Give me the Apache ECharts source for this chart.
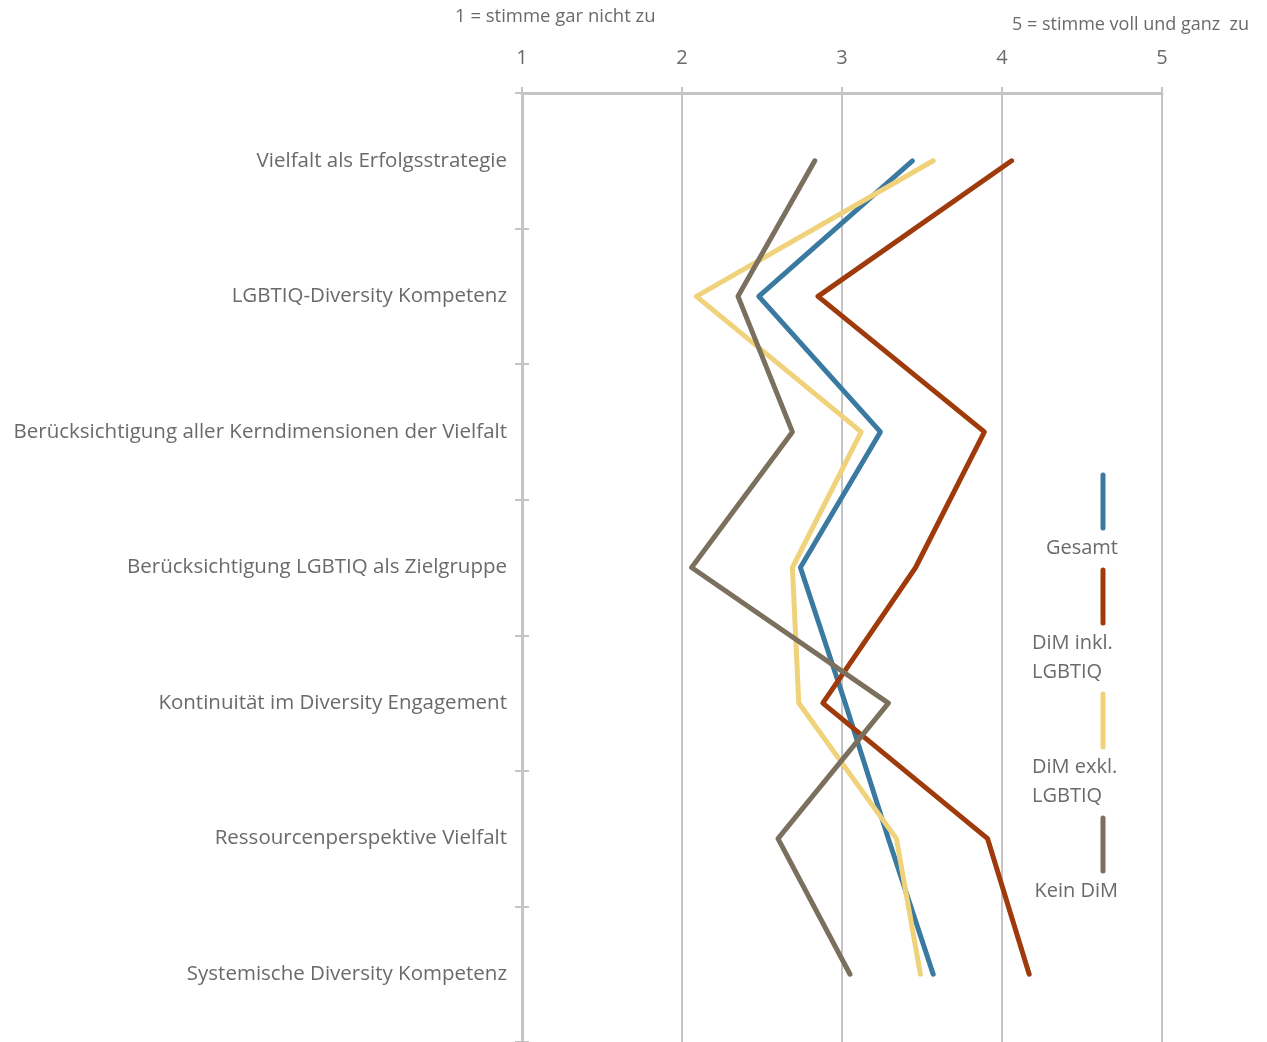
<!DOCTYPE html>
<html>
<head>
<meta charset="utf-8">
<script src="https://cdn.jsdelivr.net/npm/echarts@6/dist/echarts.min.js"></script>
<style>
  html, body { margin: 0; padding: 0; background: #fff; }
  #chart { width: 1267px; height: 1042px; }
</style>
</head>
<body>
<div id="chart"></div>
<script>
// Items of the survey (top to bottom)
const categories = [
  'Vielfalt als Erfolgsstrategie',
  'LGBTIQ-Diversity Kompetenz',
  'Berücksichtigung aller Kerndimensionen der Vielfalt',
  'Berücksichtigung LGBTIQ als Zielgruppe',
  'Kontinuität im Diversity Engagement',
  'Ressourcenperspektive Vielfalt',
  'Systemische Diversity Kompetenz'
];

// Mean agreement per group (1 = stimme gar nicht zu ... 5 = stimme voll und ganz zu)
const gesamt   = [3.44, 2.48, 3.24, 2.74, 3.02, 3.29, 3.57];
const dimInkl  = [4.06, 2.85, 3.89, 3.46, 2.88, 3.91, 4.17];
const dimExkl  = [3.57, 2.09, 3.12, 2.69, 2.73, 3.34, 3.49];
const keinDim  = [2.83, 2.35, 2.69, 2.06, 3.29, 2.60, 3.05];

const seriesNames = ['Gesamt', 'DiM inkl.\nLGBTIQ', 'DiM exkl.\nLGBTIQ', 'Kein DiM'];
const seriesData  = [gesamt, dimInkl, dimExkl, keinDim];
const colors      = ['#3a79a0', '#9f3a0b', '#f0d27b', '#7a705d'];

const scaleTicks = [1, 2, 3, 4, 5];

const FONT = '"Open Sans"';
const TEXT = '#6a6a6a';
const GRID = '#c4c4c4';

const chart = echarts.init(document.getElementById('chart'));

// Legend: a short vertical stroke with the group name underneath
const legendGraphics = [];
let cursor = 475;
const strokeLen = 53;
const lineH = 29;
seriesNames.forEach((name, i) => {
  const y0 = cursor;
  legendGraphics.push({
    type: 'line',
    shape: { x1: 1103, y1: y0, x2: 1103, y2: y0 + strokeLen },
    style: { stroke: colors[i], lineWidth: 5, lineCap: 'round' }
  });
  const nLines = name.split('\n').length;
  const twoLines = nLines > 1;
  const firstCenter = y0 + strokeLen + 20;
  legendGraphics.push({
    type: 'text',
    x: twoLines ? 1032 : 1118,
    y: firstCenter - lineH / 2,
    style: {
      text: name,
      fill: TEXT,
      font: '20px ' + FONT,
      align: twoLines ? 'left' : 'right',
      verticalAlign: 'top',
      lineHeight: lineH
    }
  });
  cursor = firstCenter + (nLines - 1) * lineH + 22;
});

chart.setOption({
  backgroundColor: '#ffffff',
  animation: false,
  textStyle: { fontFamily: FONT },
  grid: { left: 522, right: 105, top: 93, height: 950, containLabel: false },
  xAxis: [{
    type: 'value',
    position: 'top',
    min: scaleTicks[0],
    max: scaleTicks[scaleTicks.length - 1],
    interval: 1,
    axisLine: { show: true, lineStyle: { color: GRID, width: 3 } },
    axisTick: { show: true, length: 6, lineStyle: { color: GRID, width: 2 } },
    splitLine: { show: true, lineStyle: { color: GRID, width: 2 } },
    axisLabel: { color: TEXT, fontSize: 20, margin: 25, fontFamily: FONT }
  }],
  yAxis: [{
    type: 'category',
    inverse: true,
    data: categories,
    boundaryGap: true,
    axisLine: { show: true, lineStyle: { color: GRID, width: 3 } },
    axisTick: { show: true, length: 7, lineStyle: { color: GRID, width: 2 } },
    axisLabel: { color: TEXT, fontSize: 20.5, margin: 15, fontFamily: FONT, padding: [3, 0, 0, 0] }
  }, {
    // inner half of the category tick marks
    type: 'category',
    inverse: true,
    position: 'left',
    data: categories,
    axisLine: { show: false },
    axisTick: { show: true, inside: true, length: 7, lineStyle: { color: GRID, width: 2 } },
    axisLabel: { show: false },
    splitLine: { show: false }
  }],
  graphic: [
    {
      type: 'text', x: 455, y: 17,
      style: { text: '1 = stimme gar nicht zu', fill: TEXT, font: '18.5px ' + FONT, verticalAlign: 'middle' }
    },
    {
      type: 'text', x: 1012, y: 25,
      style: { text: '5 = stimme voll und ganz  zu', fill: TEXT, font: '18px ' + FONT, verticalAlign: 'middle' }
    }
  ].concat(legendGraphics),
  series: seriesData.map((data, i) => ({
    name: seriesNames[i],
    type: 'line',
    data: data,
    symbol: 'none',
    color: colors[i],
    lineStyle: { width: 5, color: colors[i], cap: 'round', join: 'round' },
    z: 2 + i
  }))
});
</script>
</body>
</html>
